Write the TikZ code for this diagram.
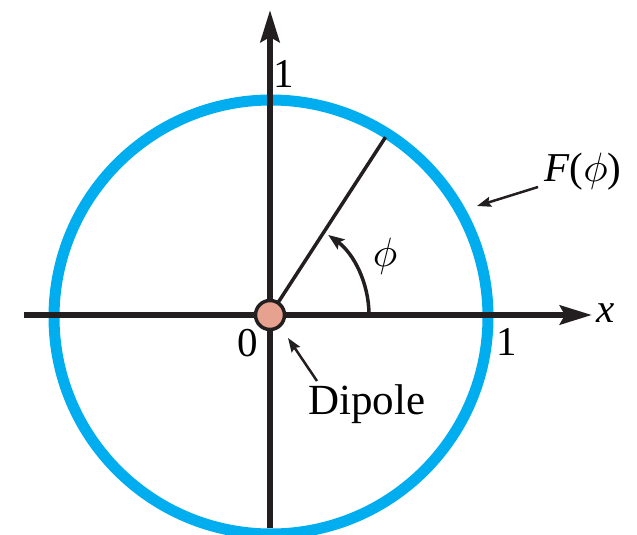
\documentclass[tikz,border=0pt]{standalone}
\usepackage{fontspec}
\setmainfont{Liberation Serif}
\usetikzlibrary{arrows.meta}
\definecolor{patblue}{HTML}{00AEEF}
\definecolor{dipfill}{HTML}{E6A28E}
\definecolor{ink}{HTML}{231F20}
\newcommand{\bigphi}{\scalebox{4.1}{\normalsize$\phi$}}
\begin{document}
\begin{tikzpicture}[x=1pt,y=-1pt,
  axis/.style={draw=ink,line width=6pt,-{Stealth[length=32pt,width=19pt,inset=5pt]}},
  thin/.style={draw=ink,line width=3.5pt},
  pointer/.style={draw=ink,line width=2.5pt,-{Stealth[length=14pt,width=10pt,inset=2pt]}},
  lbl/.style={font=\fontsize{41}{48}\selectfont,inner sep=0pt}]
\useasboundingbox (0,0) rectangle (637,535);
\coordinate (O) at (270,315);
\coordinate (xl) at (24,315);
\coordinate (xr) at (592,315);
\coordinate (yb) at (270,528);
\coordinate (yt) at (270,10);
% pattern circle
\draw[patblue,line width=11pt] (271,317) circle[radius=217];
% axes
\draw[axis] (xl) -- (xr);
\draw[axis] (yb) -- (yt);
% ray
\draw[thin] (O) -- ++(-57:212) coordinate (rayend);
% angle arc
\draw[thin,-{Stealth[length=16pt,width=12pt,inset=3pt]}] (369,315) arc[start angle=0,end angle=-54,radius=99];
% dipole
\node[circle,draw=ink,fill=dipfill,line width=3.5pt,minimum size=29pt,inner sep=0pt] (dip) at (O) {};
% labels
\node[lbl] (one-y) at (284,74) {1};
\node[lbl] (one-x) at (507,342) {1};
\node[lbl] (zero) at (248,343) {0};
\node[lbl] (xlab) at (606,313) {\textit{x}};
\node[lbl] (phi) at (385,256) {\bigphi};
\node[lbl] (F) at (583,172) {\textit{F}(\bigphi)};
\node[lbl,font=\fontsize{43}{50}\selectfont] (dlab) at (367,404) {Dipole};
\coordinate (dtip) at (288,338);
\coordinate (dtail) at (317,381);
\draw[pointer] (dtail) -- (dtip);
\coordinate (ftail) at (538,187);
\coordinate (ftip) at (477,206);
\draw[pointer] (ftail) -- (ftip);
\end{tikzpicture}
\end{document}
